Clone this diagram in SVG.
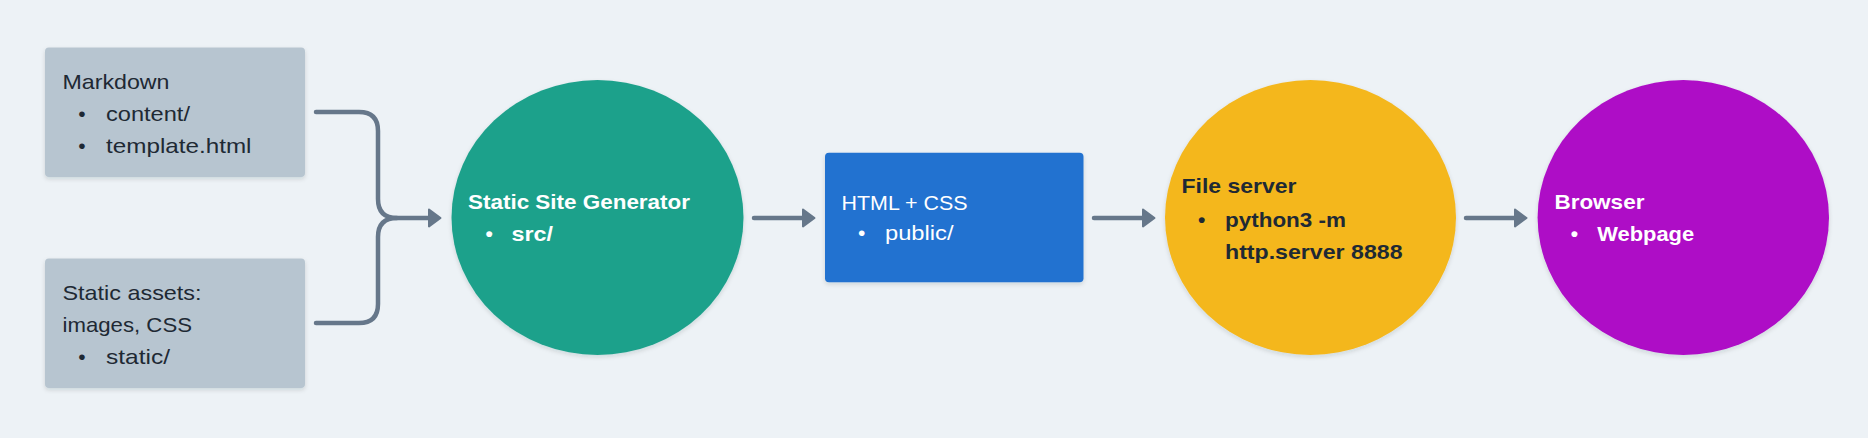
<svg xmlns="http://www.w3.org/2000/svg" width="1868" height="438" viewBox="0 0 1868 438">
  <style>
    .t { font-family: "Liberation Sans", Arial, sans-serif; font-size: 21px; }
    .b { font-weight: bold; }
    .dark { fill: #1e2934; }
    .light { fill: #ffffff; }
    .conn { fill: none; stroke: #66778a; stroke-width: 4.5; stroke-linecap: round; stroke-linejoin: round; }
  </style>
  <defs>
    <filter id="sh" x="-10%" y="-10%" width="120%" height="125%">
      <feDropShadow dx="0" dy="2" stdDeviation="2" flood-color="#1e2934" flood-opacity="0.14"/>
    </filter>
    <marker id="ah" markerUnits="userSpaceOnUse" markerWidth="16" markerHeight="22" refX="1" refY="10" orient="auto">
      <path d="M1,1.5 L12.5,10 L1,18.5 Z" fill="#66778a" stroke="#66778a" stroke-width="2" stroke-linejoin="round"/>
    </marker>
  </defs>
  <rect width="1868" height="438" fill="#edf2f6"/>

  <g id="connectors">
    <path class="conn" d="M316,112 H359 Q378,112 378,131 V199 Q378,218 397,218 H429" marker-end="url(#ah)"/>
    <path class="conn" d="M316,323 H359 Q378,323 378,304 V237 Q378,218 397,218"/>
    <path class="conn" d="M754,218 H803" marker-end="url(#ah)"/>
    <path class="conn" d="M1094,218 H1143" marker-end="url(#ah)"/>
    <path class="conn" d="M1466,218 H1515" marker-end="url(#ah)"/>
  </g>

  <g id="markdown">
    <rect x="45" y="47.5" width="260" height="129.5" rx="4" fill="#b7c5d0" filter="url(#sh)"/>
    <text class="t dark" x="62.5" y="89" textLength="107" lengthAdjust="spacingAndGlyphs">Markdown</text>
    <text class="t dark" x="82" y="121" text-anchor="middle">•</text>
    <text class="t dark" x="106" y="121" textLength="84" lengthAdjust="spacingAndGlyphs">content/</text>
    <text class="t dark" x="82" y="153" text-anchor="middle">•</text>
    <text class="t dark" x="106" y="153" textLength="145.5" lengthAdjust="spacingAndGlyphs">template.html</text>
  </g>

  <g id="static-assets">
    <rect x="45" y="258.5" width="260" height="129.5" rx="4" fill="#b7c5d0" filter="url(#sh)"/>
    <text class="t dark" x="62.5" y="300" textLength="139" lengthAdjust="spacingAndGlyphs">Static assets:</text>
    <text class="t dark" x="62.5" y="332" textLength="129.5" lengthAdjust="spacingAndGlyphs">images, CSS</text>
    <text class="t dark" x="82" y="364" text-anchor="middle">•</text>
    <text class="t dark" x="106" y="364" textLength="64" lengthAdjust="spacingAndGlyphs">static/</text>
  </g>

  <g id="ssg">
    <ellipse cx="597.5" cy="217.5" rx="146" ry="137.5" fill="#1fa18b" filter="url(#sh)"/>
    <text class="t b light" x="468" y="209" textLength="222" lengthAdjust="spacingAndGlyphs">Static Site Generator</text>
    <text class="t b light" x="489.3" y="241" text-anchor="middle">•</text>
    <text class="t b light" x="511.5" y="241" textLength="41.5" lengthAdjust="spacingAndGlyphs">src/</text>
  </g>

  <g id="html-css">
    <rect x="825" y="152.7" width="258.5" height="129.6" rx="4" fill="#2372d0" filter="url(#sh)"/>
    <text class="t light" x="841.5" y="210" textLength="126" lengthAdjust="spacingAndGlyphs">HTML + CSS</text>
    <text class="t light" x="861.7" y="240" text-anchor="middle">•</text>
    <text class="t light" x="885" y="240" textLength="68.5" lengthAdjust="spacingAndGlyphs">public/</text>
  </g>

  <g id="file-server">
    <ellipse cx="1310.5" cy="217.5" rx="145.5" ry="137.5" fill="#f4b71f" filter="url(#sh)"/>
    <text class="t b dark" x="1181.5" y="193" textLength="115" lengthAdjust="spacingAndGlyphs">File server</text>
    <text class="t b dark" x="1201.7" y="226.5" text-anchor="middle">•</text>
    <text class="t b dark" x="1225" y="226.5" textLength="121" lengthAdjust="spacingAndGlyphs">python3 -m</text>
    <text class="t b dark" x="1225" y="258.5" textLength="177.5" lengthAdjust="spacingAndGlyphs">http.server 8888</text>
  </g>

  <g id="browser">
    <ellipse cx="1683.3" cy="217.5" rx="145.7" ry="137.5" fill="#ae0ec6" filter="url(#sh)"/>
    <text class="t b light" x="1554.4" y="209" textLength="90" lengthAdjust="spacingAndGlyphs">Browser</text>
    <text class="t b light" x="1574.4" y="241" text-anchor="middle">•</text>
    <text class="t b light" x="1597.2" y="241" textLength="97" lengthAdjust="spacingAndGlyphs">Webpage</text>
  </g>
</svg>
